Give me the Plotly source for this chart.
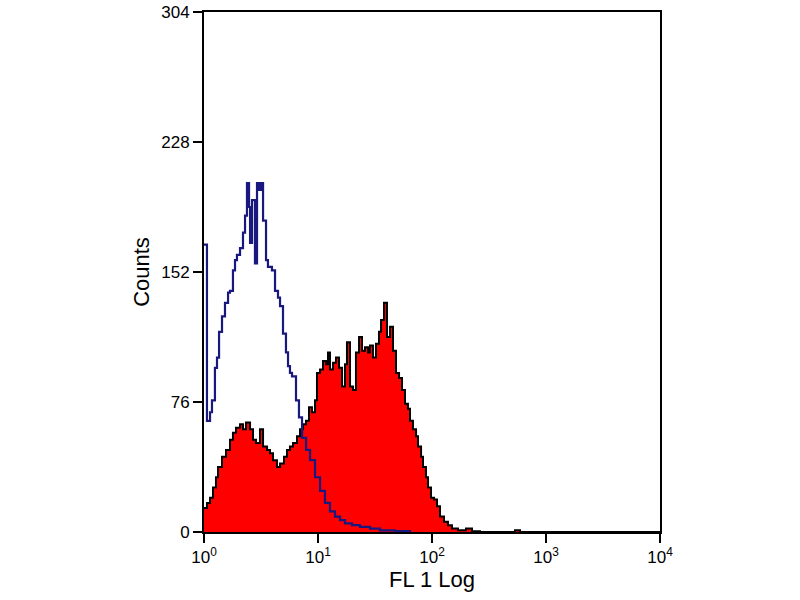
import plotly.graph_objects as go

# histogram channels, stored as log10(FL1) positions and counts
red_log = [0.0, 0.026, 0.053, 0.079, 0.105, 0.123, 0.158, 0.193, 0.228, 0.254,
           0.281, 0.316, 0.342, 0.368, 0.404, 0.430, 0.456, 0.491, 0.518, 0.553,
           0.579, 0.605, 0.640, 0.667, 0.702, 0.728, 0.754, 0.781, 0.816, 0.842,
           0.868, 0.895, 0.921, 0.947, 0.974, 0.991, 1.018, 1.044, 1.070, 1.088,
           1.105, 1.132, 1.158, 1.184, 1.211, 1.237, 1.254, 1.281, 1.307, 1.333,
           1.360, 1.386, 1.412, 1.439, 1.456, 1.482, 1.509, 1.535, 1.553, 1.579,
           1.605, 1.632, 1.658, 1.684, 1.711, 1.737, 1.763, 1.789, 1.807, 1.833,
           1.860, 1.877, 1.904, 1.921, 1.947, 1.965, 1.991, 2.018, 2.044, 2.070,
           2.105, 2.140, 2.175, 2.228, 2.298, 2.351, 2.421, 2.728, 2.772, 4.0]
red_counts = [14, 17, 20, 26, 32, 38, 44, 48, 54, 58,
              61, 63, 60, 64, 60, 54, 52, 60, 50, 48,
              46, 42, 38, 40, 44, 48, 50, 52, 56, 60,
              63, 65, 73, 70, 77, 93, 95, 100, 98, 105,
              95, 99, 102, 96, 85, 98, 111, 85, 83, 105,
              114, 106, 108, 105, 109, 102, 110, 117, 124, 134,
              114, 120, 106, 93, 90, 83, 75, 72, 65, 60,
              56, 50, 44, 38, 32, 26, 20, 19, 15, 9,
              6, 4, 2, 1, 2, 0.5, 0, 1, 0, 0]

blue_log = [0.0, 0.026, 0.053, 0.070, 0.096, 0.114, 0.132, 0.158, 0.184, 0.211,
            0.228, 0.254, 0.272, 0.289, 0.316, 0.342, 0.360, 0.377, 0.395, 0.404,
            0.421, 0.447, 0.465, 0.482, 0.500, 0.518, 0.544, 0.561, 0.596, 0.623,
            0.649, 0.667, 0.693, 0.719, 0.737, 0.754, 0.772, 0.807, 0.833, 0.860,
            0.895, 0.930, 0.974, 1.018, 1.061, 1.105, 1.149, 1.193, 1.237, 1.298,
            1.368, 1.456, 1.544, 1.675, 1.807]
blue_counts = [168, 65, 70, 77, 96, 102, 117, 126, 134, 140,
               141, 153, 159, 162, 166, 175, 185, 204, 190, 169,
               194, 157, 204, 200, 204, 182, 159, 155, 153, 141,
               137, 132, 116, 105, 97, 93, 91, 77, 67, 55,
               48, 42, 32, 24, 17, 12, 9, 7, 5, 4,
               3, 2, 1, 0.5, 0]

y_ticks = [0, 76, 152, 228, 304]
x_ticks = [1, 10, 100, 1000, 10000]
x_ticktext = ["10<sup>0</sup>", "10<sup>1</sup>", "10<sup>2</sup>",
              "10<sup>3</sup>", "10<sup>4</sup>"]

fig = go.Figure()

# stained sample: red filled histogram with black outline
fig.add_trace(go.Scatter(
    x=[10 ** v for v in red_log], y=red_counts,
    mode="lines", line=dict(color="black", width=2, shape="hv"),
    fill="tozeroy", fillcolor="#ff0000", showlegend=False
))

# isotype control: blue open histogram
fig.add_trace(go.Scatter(
    x=[10 ** v for v in blue_log], y=blue_counts,
    mode="lines", line=dict(color="#18187f", width=2.2, shape="hv"),
    showlegend=False
))

font = dict(family="Liberation Sans, Arial, sans-serif", size=18, color="black")
tick_font = dict(family="Liberation Sans, Arial, sans-serif", size=17, color="black")

fig.update_layout(
    width=800, height=600,
    margin=dict(l=204, r=140, t=12, b=68),
    paper_bgcolor="white", plot_bgcolor="white",
    font=font,
    xaxis=dict(
        type="log", range=[0, 4], automargin=False,
        tickvals=x_ticks, ticktext=x_ticktext, tickfont=tick_font,
        ticks="outside", ticklen=9, tickwidth=1.5, tickcolor="black",
        showline=True, linecolor="black", linewidth=2, mirror=True,
        showgrid=False, zeroline=False,
        title=dict(text="FL 1 Log", standoff=2),
    ),
    yaxis=dict(
        range=[0, 304], automargin=False,
        tickvals=y_ticks, tickfont=tick_font,
        ticks="outside", ticklen=9, tickwidth=1.5, tickcolor="black",
        showline=True, linecolor="black", linewidth=2, mirror=True,
        showgrid=False, zeroline=False,
        title=dict(text="Counts", standoff=6),
    ),
)

# drop the default 8px body margin so the figure sits at the page corner
fig.write_html("out.html", config={"displayModeBar": False},
               post_script="document.body.style.margin='0';")
